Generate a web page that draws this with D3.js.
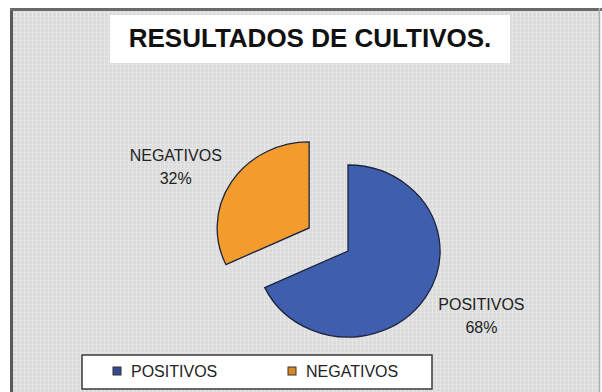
<!DOCTYPE html>
<html><head><meta charset="utf-8">
<script src="https://cdn.jsdelivr.net/npm/d3@7"></script>
<style>html,body{margin:0;padding:0;background:#fff;}svg{display:block;}</style>
</head><body>
<svg id="chart" width="602" height="392"></svg>
<script>
const title = "RESULTADOS DE CULTIVOS.";
const categories = ["POSITIVOS", "NEGATIVOS"];
const values = [68, 32];
const colors = ["#3f5fae", "#f49b2e"];

const svg = d3.select("#chart");
const defs = svg.append("defs");
const pat = defs.append("pattern").attr("id","bg").attr("patternUnits","userSpaceOnUse")
  .attr("width",4).attr("height",4);
pat.append("rect").attr("width",4).attr("height",4).attr("fill","#dbdbdb");
pat.append("rect").attr("x",0).attr("width",1).attr("height",4).attr("fill","#e7e7e7");
pat.append("rect").attr("y",0).attr("width",4).attr("height",1).attr("fill","#e4e4e4");

// frame
svg.append("rect").attr("x",10).attr("y",8).attr("width",590).attr("height",400)
  .attr("fill","url(#bg)");
svg.append("line").attr("x1",11.5).attr("x2",11.5).attr("y1",8).attr("y2",392).attr("stroke","#5a5a5a").attr("stroke-width",3);
svg.append("line").attr("x1",10).attr("x2",602).attr("y1",9.5).attr("y2",9.5).attr("stroke","#6a6a6a").attr("stroke-width",3);
svg.append("line").attr("x1",599.5).attr("x2",599.5).attr("y1",8).attr("y2",392).attr("stroke","#b0b0b0").attr("stroke-width",1.5);

// title
svg.append("rect").attr("x",110).attr("y",15).attr("width",400).attr("height",48).attr("fill","#ffffff");
svg.append("text").attr("x",310).attr("y",47).attr("text-anchor","middle")
  .attr("font-family","Liberation Sans, Arial, sans-serif").attr("font-weight","bold")
  .attr("font-size",26).attr("fill","#111").text(title);

// pie
const cx = 348, cy = 251, r = 86, sx = 1.07, explode = 43;
const pie = d3.pie().sort(null).startAngle(0).endAngle(2*Math.PI)(values);
const arc = d3.arc().innerRadius(0).outerRadius(r);
const g = svg.append("g").attr("transform",`translate(${cx},${cy}) scale(${sx},1)`);
pie.forEach((d,i)=>{
  const mid = (d.startAngle + d.endAngle)/2;
  const off = i === 1 ? explode : 0;
  const ox = Math.sin(mid)*off, oy = -Math.cos(mid)*off;
  g.append("path").attr("d", arc(d)).attr("transform",`translate(${ox},${oy})`)
    .attr("fill", colors[i]).attr("stroke","#1c2440").attr("stroke-width",1.3)
    .attr("vector-effect","non-scaling-stroke");
  const lx = cx + ox*sx + Math.sin(mid)*158;
  const ly = cy + oy + (-Math.cos(mid))*118;
  const t = svg.append("text").attr("text-anchor","middle")
    .attr("font-family","Liberation Sans, Arial, sans-serif").attr("font-size",16).attr("fill","#222");
  t.append("tspan").attr("x",lx).attr("y",ly - 4).text(categories[i]);
  t.append("tspan").attr("x",lx).attr("y",ly + 19).text(Math.round(d.value) + "%");
});

// legend
svg.append("rect").attr("x",82).attr("y",355).attr("width",350).attr("height",34)
  .attr("fill","#fff").attr("stroke","#3a3a3a").attr("stroke-width",1.5);
const legX = [113, 288];
const legColors = ["#2f4a8f", "#d98a24"];
categories.forEach((c,i)=>{
  svg.append("rect").attr("x",legX[i]).attr("y",367).attr("width",8).attr("height",8)
    .attr("fill",legColors[i]).attr("stroke","#333").attr("stroke-width",1);
  svg.append("text").attr("x",legX[i]+18).attr("y",377)
    .attr("font-family","Liberation Sans, Arial, sans-serif").attr("font-size",16).attr("fill","#222").text(c);
});
</script>
</body></html>
